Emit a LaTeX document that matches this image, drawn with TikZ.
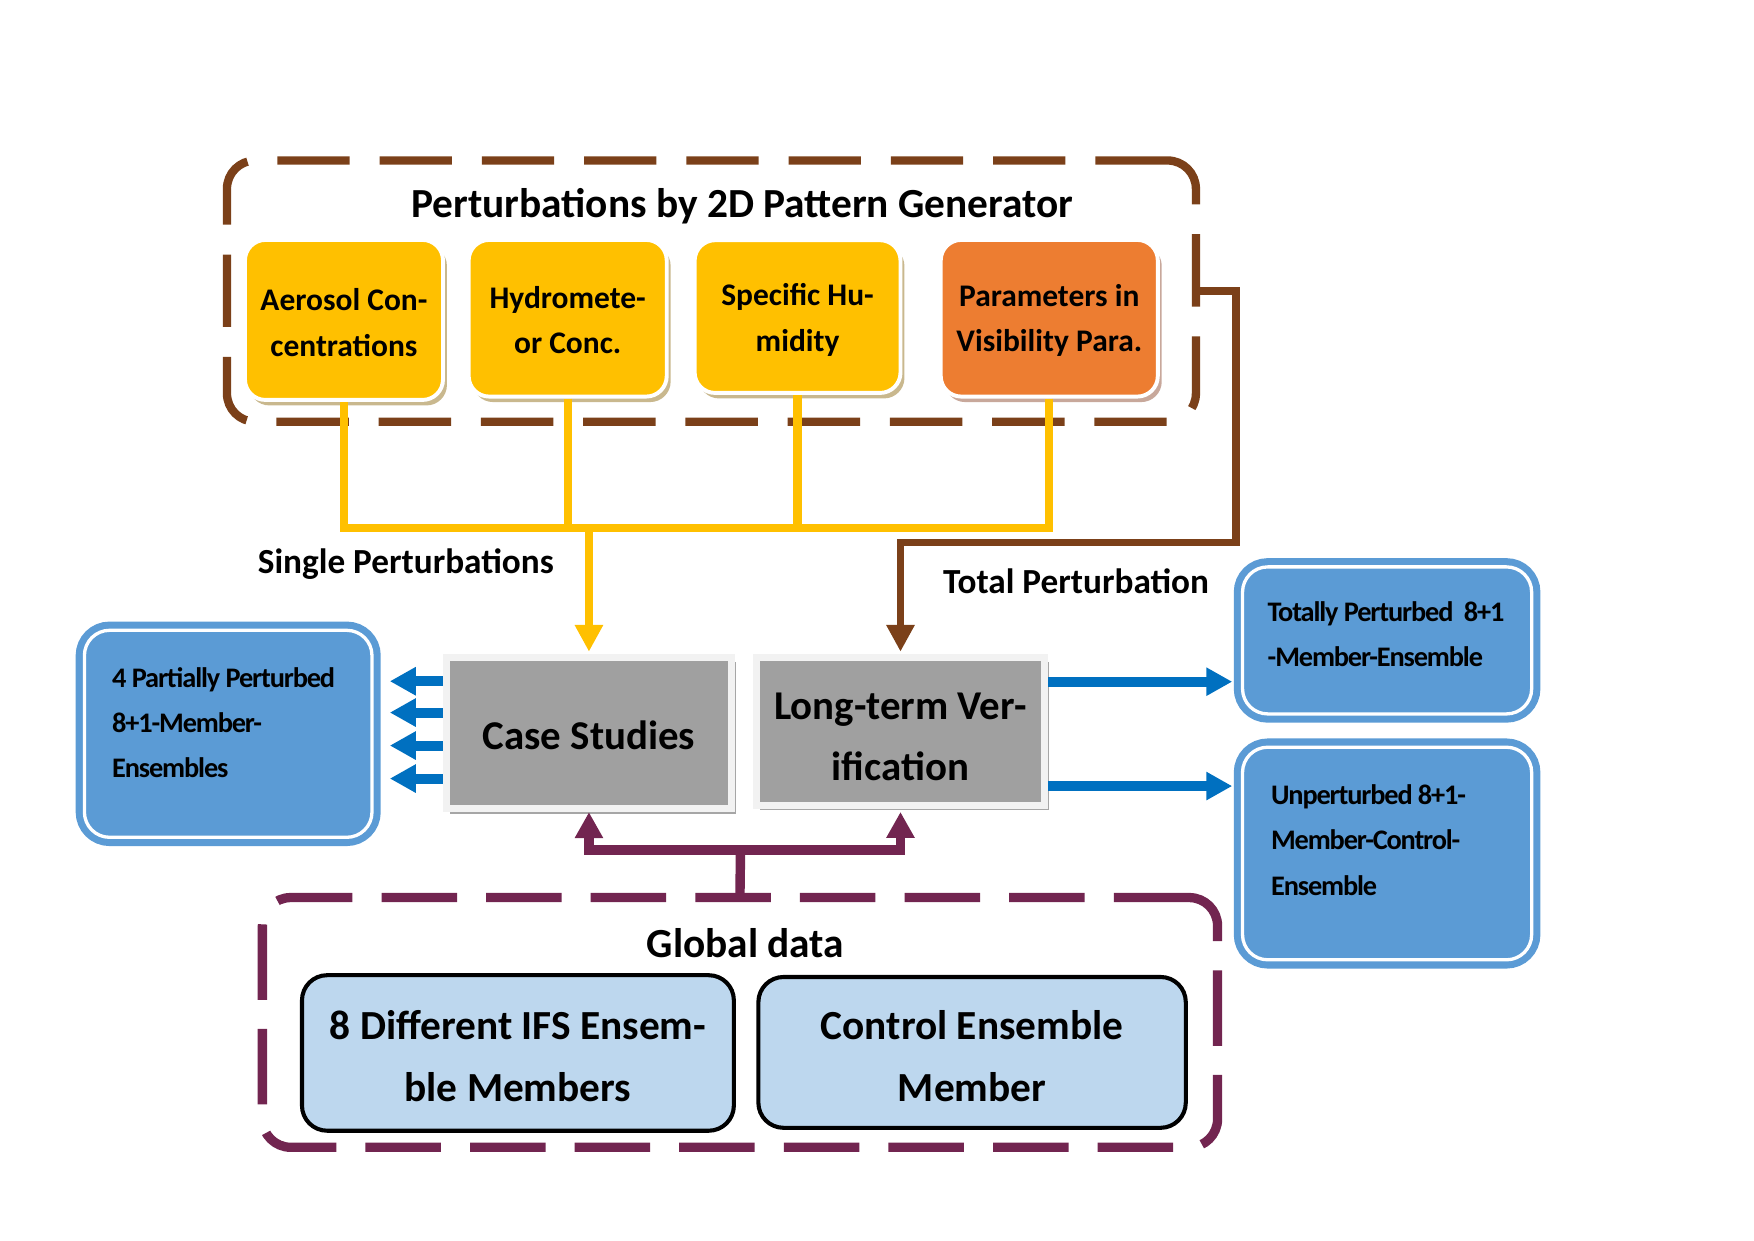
\documentclass[tikz,border=0pt]{standalone}
\usepackage{fontspec}
\setmainfont{Carlito}
\newfontfamily\condfont[LetterSpace=-4]{Carlito}
\usetikzlibrary{arrows.meta,shadows}
\definecolor{yel}{HTML}{FFC000}
\definecolor{org}{HTML}{ED7D31}
\definecolor{ytan}{HTML}{C9B88E}
\definecolor{otan}{HTML}{C8A89B}
\definecolor{grayfill}{HTML}{A0A0A0}
\definecolor{grayring}{HTML}{F2F2F2}
\definecolor{grayshadow}{HTML}{A6A6A6}
\definecolor{bfill}{HTML}{5B9BD5}
\definecolor{barrowc}{HTML}{0070C0}
\definecolor{lbfill}{HTML}{BDD7EE}
\definecolor{brownc}{HTML}{7B4019}
\definecolor{purpc}{HTML}{722550}
\begin{document}
\begin{tikzpicture}[x=0.025cm,y=-0.025cm,
  cont/.style={rectangle, rounded corners=18pt, dash pattern=on 46pt off 19pt, inner sep=0pt},
  pbox/.style={rectangle, rounded corners=13pt, draw=white, line width=2.5pt, inner sep=0pt},
  ptext/.style={inner sep=0pt, align=center, font=\bfseries\fontsize{20}{29}\selectfont},
  gbox/.style={rectangle, fill=grayfill, draw=grayring, line width=4.3pt, inner sep=0pt,
     drop shadow={shadow xshift=2.5pt, shadow yshift=-3pt, fill=grayshadow, opacity=1}},
  gtext/.style={inner sep=0pt, align=center, font=\bfseries\fontsize{26}{39}\selectfont},
  bbox/.style={rectangle, rounded corners=16pt, fill=bfill, draw=white, line width=2.1pt, inner sep=0pt,
     preaction={draw=bfill, line width=11.1pt}},
  btext/.style={anchor=west, inner sep=0pt, align=left, font=\condfont\bfseries\fontsize{18}{28.8}\selectfont},
  dbox/.style={rectangle, rounded corners=16pt, fill=lbfill, draw=black, line width=2.6pt, inner sep=0pt},
  dtext/.style={inner sep=0pt, align=center, font=\bfseries\fontsize{26.3}{39}\selectfont},
  lbl/.style={inner sep=0pt, font=\bfseries\fontsize{22.4}{26}\selectfont},
  hd/.style={inner sep=0pt, font=\bfseries\fontsize{26.3}{30}\selectfont},
  yline/.style={draw=yel, line width=5.3pt},
  yarr/.style={draw=yel, line width=5.3pt, -{Triangle[length=17pt,width=17pt]}},
  brarr/.style={draw=brownc, line width=5pt, -{Triangle[length=17pt,width=17pt]}},
  parr/.style={draw=purpc, line width=6pt, -{Triangle[length=16.5pt,width=17pt]}},
  pline/.style={draw=purpc, line width=6pt},
  barr/.style={draw=barrowc, line width=6.4pt, -{Triangle[length=16.5pt,width=17pt]}}
]
\useasboundingbox (0,0) rectangle (1568,1109);

% containers
\node[cont, draw=brownc, line width=5.3pt, minimum width=866*0.7113pt, minimum height=233.5*0.7113pt] (pert) at (636,260.25) {};
\node[cont, draw=purpc, line width=5.9pt, dash pattern=on 48pt off 18.5pt, minimum width=853.7*0.7113pt, minimum height=223.2*0.7113pt] (gd) at (661.5,914) {};

\node[hd] (ttl) at (663.6,184) {Perturbations by 2D Pattern Generator};
\node[hd] (gdt) at (666.4,843) {Global data};

% perturbation boxes
\node[pbox, fill=yel, minimum width=177*0.7113pt, minimum height=143*0.7113pt,
  drop shadow={shadow xshift=2.5pt, shadow yshift=-3.5pt, fill=ytan, opacity=1}] (b1) at (307.5,286) {};
\node[ptext] (b1t) at (307.5,288.5) {Aerosol Con-\\centrations};
\node[pbox, fill=yel, minimum width=177*0.7113pt, minimum height=140*0.7113pt,
  drop shadow={shadow xshift=2.5pt, shadow yshift=-3.5pt, fill=ytan, opacity=1}] (b2) at (507.5,284.5) {};
\node[ptext] (b2t) at (507.5,286) {Hydromete-\\or Conc.};
\node[pbox, fill=yel, minimum width=184*0.7113pt, minimum height=136.5*0.7113pt,
  drop shadow={shadow xshift=2.5pt, shadow yshift=-3.5pt, fill=ytan, opacity=1}] (b3) at (713,283) {};
\node[ptext] (b3t) at (713,286) {Specific Hu-\\midity};
\node[pbox, fill=org, minimum width=194*0.7113pt, minimum height=140*0.7113pt,
  drop shadow={shadow xshift=2.5pt, shadow yshift=-3.5pt, fill=otan, opacity=1}] (b4) at (938,284.5) {};
\node[ptext] (b4t) at (938,286.5) {Parameters in\\Visibility Para.};

% process boxes
\node[gbox, minimum width=255*0.7113pt, minimum height=135*0.7113pt] (cs) at (526.5,655.5) {};
\node[gtext] (cst) at (526.5,657.5) {Case Studies};
\node[gbox, minimum width=258*0.7113pt, minimum height=132*0.7113pt] (lt) at (805,654) {};
\node[gtext] (ltt) at (805,659) {Long-term Ver-\\ification};

% result boxes
\node[bbox, minimum width=257*0.7113pt, minimum height=185*0.7113pt] (lb) at (204,656) {};
\node[btext] (lbt) at (100,646) {4 Partially Perturbed\\8+1-Member-\\Ensembles};
\node[bbox, minimum width=258.4*0.7113pt, minimum height=131.4*0.7113pt] (rb1) at (1240,572.5) {};
\node[btext] (rb1t) at (1133,567) {Totally Perturbed~~8+1\\-Member-Ensemble};
\node[bbox, minimum width=258.4*0.7113pt, minimum height=190*0.7113pt] (rb2) at (1240,763) {};
\node[btext] (rb2t) at (1136,751) {Unperturbed 8+1-\\Member-Control-\\Ensemble};

% global data boxes
\node[dbox, minimum width=386*0.7113pt, minimum height=139*0.7113pt] (m8) at (463,941.3) {};
\node[dtext] (m8t) at (463,944.2) {8 Different IFS Ensem-\\ble Members};
\node[dbox, minimum width=382*0.7113pt, minimum height=134.8*0.7113pt] (ce) at (869,940.8) {};
\node[dtext] (cet) at (869,944.2) {Control Ensemble\\Member};

% labels
\node[lbl] (sp) at (362.8,504.5) {Single Perturbations};
\node[lbl] (tp) at (962,519.5) {Total Perturbation};

% yellow connectors
\coordinate (yj) at (526.5,472);
\draw[yline] (b1.south) |- (yj);
\draw[yline] (b2.south) |- (yj);
\draw[yline] (b3.south) |- (yj);
\draw[yline] (b4.south) |- (yj);
\draw[yarr, shorten >=1.7pt] (yj) -- (cs.north);

% brown connector
\coordinate (bc) at (1105,485);
\draw[brarr, shorten >=1.7pt] (pert.east) -| (bc) -| (lt.north);

% purple connectors
\coordinate (pj) at (662,760);
\draw[pline] (gd.north) -- (pj);
\draw[parr] (pj) -| (cs.south);
\draw[parr, shorten >=2pt] (pj) -| (lt.south);

% blue arrows
\foreach \yy in {609,637,666.5,696}
  \draw[barr, shorten >=10.3pt] (cs.west |- 0,\yy) -- (lb.east |- 0,\yy);
\draw[barr, shorten >=5.5pt] (lt.east |- 0,609.4) -- (rb1.west |- 0,609.4);
\draw[barr, shorten >=5.5pt] (lt.east |- 0,702.7) -- (rb2.west |- 0,702.7);
\end{tikzpicture}
\end{document}
